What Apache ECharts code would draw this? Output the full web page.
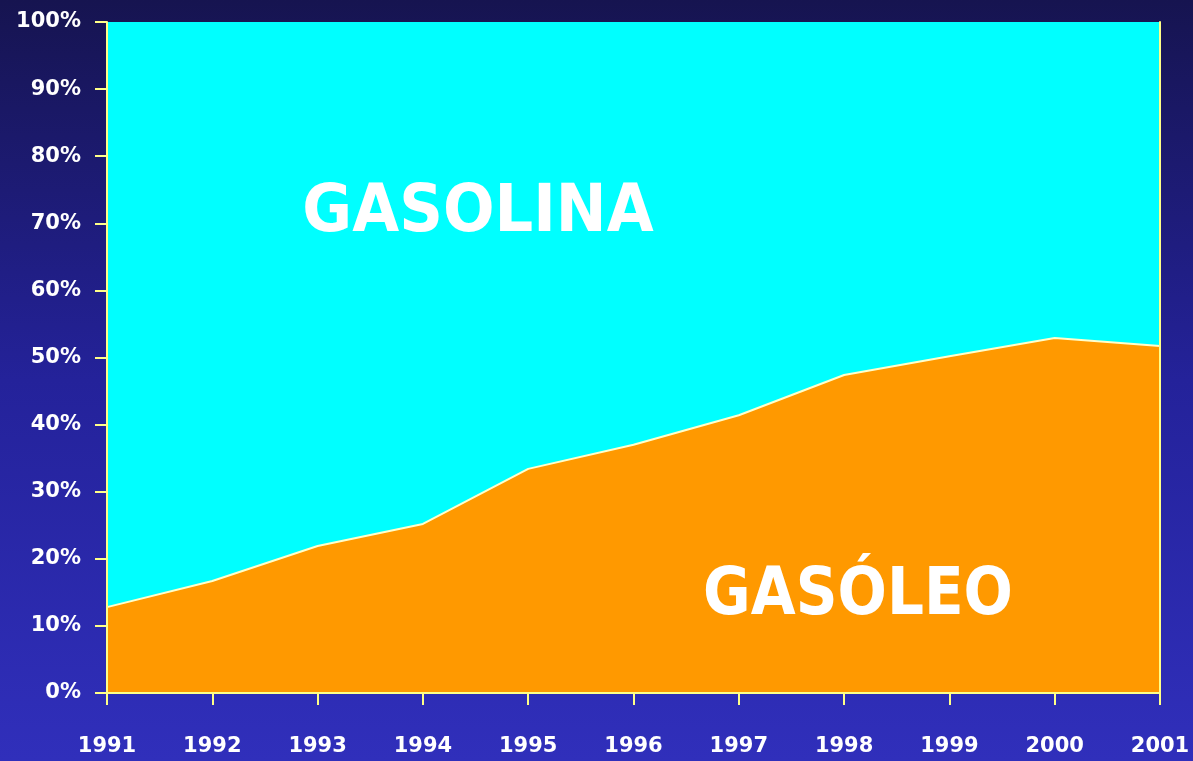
<!DOCTYPE html>
<html><head><meta charset="utf-8">
<script src="https://cdn.jsdelivr.net/npm/echarts@6/dist/echarts.min.js"></script>
<style>html,body{margin:0;padding:0;width:1193px;height:761px;overflow:hidden;}
#c{width:1193px;height:761px;background:linear-gradient(to bottom,#161450 0%,#24229a 50%,#302fbb 100%);}</style>
</head><body><div id="c"></div>
<script>
const years = ['1991','1992','1993','1994','1995','1996','1997','1998','1999','2000','2001'];
const gasoleo = [12.8, 16.7, 21.9, 25.2, 33.4, 37.0, 41.4, 47.4, 50.2, 52.9, 51.7];
const gasolina = [87.2, 83.3, 78.1, 74.8, 66.6, 63.0, 58.6, 52.6, 49.8, 47.1, 48.3];
const labelGasolina = 'GASOLINA';
const labelGasoleo = 'GASÓLEO';

const chart = echarts.init(document.getElementById('c'), null, {renderer:'canvas'});
const axisCol = '#ffff88';
const hidden = {axisTick:{show:false}, axisLabel:{show:false}, splitLine:{show:false}};
chart.setOption({
  animation:false,
  grid:{left:107, right:33, top:22, bottom:68},
  xAxis:[
    {type:'category', data:years, boundaryGap:false, z:10,
     axisLine:{lineStyle:{color:axisCol, width:2}},
     axisTick:{length:12, lineStyle:{color:axisCol, width:2}},
     axisLabel:{color:'#ffffff', fontWeight:'bold', fontSize:21, fontFamily:'DejaVu Sans', margin:43}},
    Object.assign({type:'category', data:years, boundaryGap:false, position:'top', z:10,
     axisLine:{show:true, lineStyle:{color:axisCol, width:2}}}, hidden)
  ],
  yAxis:[
    {type:'value', min:0, max:100, interval:10, z:10,
     splitLine:{show:false},
     axisLine:{show:true, lineStyle:{color:axisCol, width:2}},
     axisTick:{show:true, length:12, lineStyle:{color:axisCol, width:2}},
     axisLabel:{color:'#ffffff', fontWeight:'bold', fontSize:21, fontFamily:'DejaVu Sans', margin:26, formatter:'{value}%'}},
    Object.assign({type:'value', min:0, max:100, position:'right', z:10,
     axisLine:{show:true, lineStyle:{color:axisCol, width:2}}}, hidden)
  ],
  series:[
    {name:'Gasóleo', type:'line', stack:'t', data:gasoleo, symbol:'none',
     lineStyle:{color:'#ffffcc', width:2}, areaStyle:{color:'#ff9900', opacity:1}},
    {name:'Gasolina', type:'line', stack:'t', data:gasolina, symbol:'none',
     lineStyle:{width:0}, areaStyle:{color:'#00ffff', opacity:1}, z:1}
  ],
  graphic:[
    {type:'text', x:478, y:214, scaleX:0.92, z:100,
     style:{text:labelGasolina, fill:'#ffffff', font:'bold 66px "DejaVu Sans"', textAlign:'center', textVerticalAlign:'middle'}},
    {type:'text', x:858, y:597, scaleX:0.88, z:100,
     style:{text:labelGasoleo, fill:'#ffffff', font:'bold 66px "DejaVu Sans"', textAlign:'center', textVerticalAlign:'middle'}}
  ]
});
</script></body></html>
